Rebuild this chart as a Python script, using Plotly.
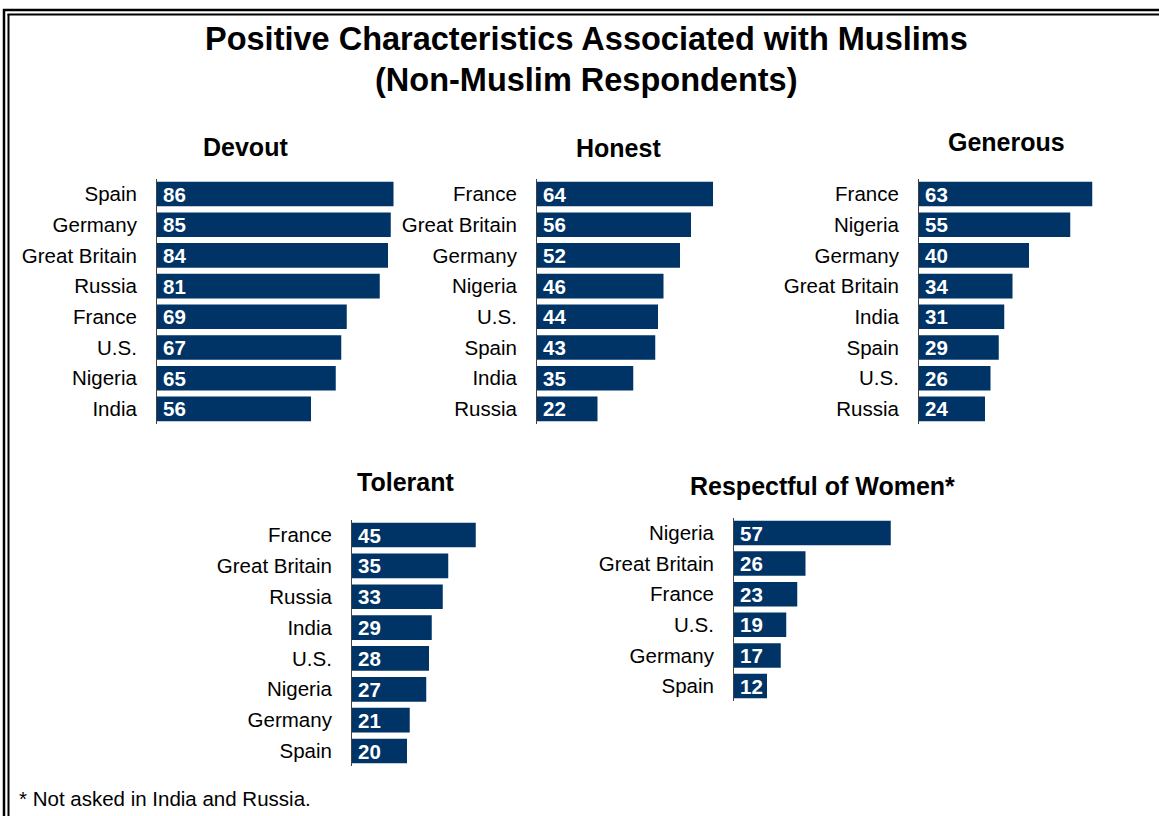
import plotly.graph_objects as go

# Survey results (% of non-Muslims associating each trait with Muslims)
devout_countries = ["Spain", "Germany", "Great Britain", "Russia", "France", "U.S.", "Nigeria", "India"]
devout_values = [86, 85, 84, 81, 69, 67, 65, 56]

honest_countries = ["France", "Great Britain", "Germany", "Nigeria", "U.S.", "Spain", "India", "Russia"]
honest_values = [64, 56, 52, 46, 44, 43, 35, 22]

generous_countries = ["France", "Nigeria", "Germany", "Great Britain", "India", "Spain", "U.S.", "Russia"]
generous_values = [63, 55, 40, 34, 31, 29, 26, 24]

tolerant_countries = ["France", "Great Britain", "Russia", "India", "U.S.", "Nigeria", "Germany", "Spain"]
tolerant_values = [45, 35, 33, 29, 28, 27, 21, 20]

women_countries = ["Nigeria", "Great Britain", "France", "U.S.", "Germany", "Spain"]
women_values = [57, 26, 23, 19, 17, 12]

W, H = 1159, 816
BAR = "#003366"
FONT = "Arial, Liberation Sans, sans-serif"
SCALE = 2.75  # pixels per percentage point


def fx(px):
    return px / W


def fy(py):
    return 1 - py / H


# panel title, countries, values, axis x (px), x max, first row centre (px), row step (px), title pos
panels = [
    ("Devout", devout_countries, devout_values, 157, 90, 194, 30.7, (245, 147)),
    ("Honest", honest_countries, honest_values, 537, 70, 194, 30.7, (618, 148)),
    ("Generous", generous_countries, generous_values, 919, 75, 194, 30.7, (1006, 142)),
    ("Tolerant", tolerant_countries, tolerant_values, 352, 50, 535, 30.86, (405, 482)),
    ("Respectful of Women*", women_countries, women_values, 734, 60, 533, 30.6, (823, 486)),
]

fig = go.Figure()
annotations = []

for i, (title, cats, vals, x0, xmax, c0, step, tpos) in enumerate(panels, start=1):
    xa = "x" if i == 1 else f"x{i}"
    ya = "y" if i == 1 else f"y{i}"
    n = len(cats)
    top = c0 - step / 2
    bottom = c0 + (n - 1) * step + step / 2
    x1 = x0 + xmax * SCALE

    fig.add_trace(go.Bar(
        x=vals, y=cats, orientation="h",
        marker=dict(color=BAR, line=dict(width=0)),
        xaxis=xa, yaxis=ya, showlegend=False, hoverinfo="x+y",
    ))

    fig.layout[f"xaxis{'' if i == 1 else i}"] = dict(
        domain=[fx(x0), fx(x1)], range=[0, xmax], anchor=ya,
        visible=False, fixedrange=True,
    )
    fig.layout[f"yaxis{'' if i == 1 else i}"] = dict(
        domain=[fy(bottom), fy(top)], anchor=xa,
        type="category", autorange="reversed",
        showline=True, linecolor="#404040", linewidth=1,
        ticks="", showgrid=False, zeroline=False,
        ticklabelstandoff=15,
        tickfont=dict(family=FONT, size=20.5, color="black"),
        fixedrange=True,
    )

    for c, v in zip(cats, vals):
        annotations.append(dict(
            x=0, y=c, xref=xa, yref=ya, text=f"<b>{v}</b>",
            xanchor="left", yanchor="middle", xshift=4, showarrow=False,
            font=dict(family=FONT, size=20.5, color="white"),
        ))

    annotations.append(dict(
        x=fx(tpos[0]), y=fy(tpos[1]), xref="paper", yref="paper",
        text=f"<b>{title}</b>", showarrow=False,
        xanchor="center", yanchor="middle",
        font=dict(family=FONT, size=25, color="black"),
    ))

# main title, two lines
for line, ypos in [("Positive Characteristics Associated with Muslims", 39),
                   ("(Non-Muslim Respondents)", 80)]:
    annotations.append(dict(
        x=fx(586), y=fy(ypos), xref="paper", yref="paper",
        text=f"<b>{line}</b>",
        showarrow=False, xanchor="center", yanchor="middle",
        font=dict(family=FONT, size=32.5, color="black"),
    ))

# footnote
annotations.append(dict(
    x=fx(17), y=fy(798), xref="paper", yref="paper",
    text="* Not asked in India and Russia.",
    showarrow=False, xanchor="left", yanchor="middle",
    font=dict(family=FONT, size=20.5, color="black"),
))

# double frame along the top and left edges
shapes = [
    dict(type="line", xref="paper", yref="paper", x0=fx(4), x1=fx(4), y0=fy(9), y1=0,
         line=dict(color="black", width=2.5)),
    dict(type="line", xref="paper", yref="paper", x0=fx(8.5), x1=fx(8.5), y0=fy(14), y1=0,
         line=dict(color="black", width=2)),
    dict(type="line", xref="paper", yref="paper", x0=fx(3), x1=1, y0=fy(10), y1=fy(10),
         line=dict(color="black", width=2.5)),
    dict(type="line", xref="paper", yref="paper", x0=fx(7.5), x1=1, y0=fy(14.5), y1=fy(14.5),
         line=dict(color="black", width=2)),
]

fig.update_layout(
    width=W, height=H,
    margin=dict(l=0, r=0, t=0, b=0),
    paper_bgcolor="white", plot_bgcolor="white",
    bargap=0.2,
    annotations=annotations,
    shapes=shapes,
    font=dict(family=FONT),
)

fig.write_html("out.html", config={"displayModeBar": False})
